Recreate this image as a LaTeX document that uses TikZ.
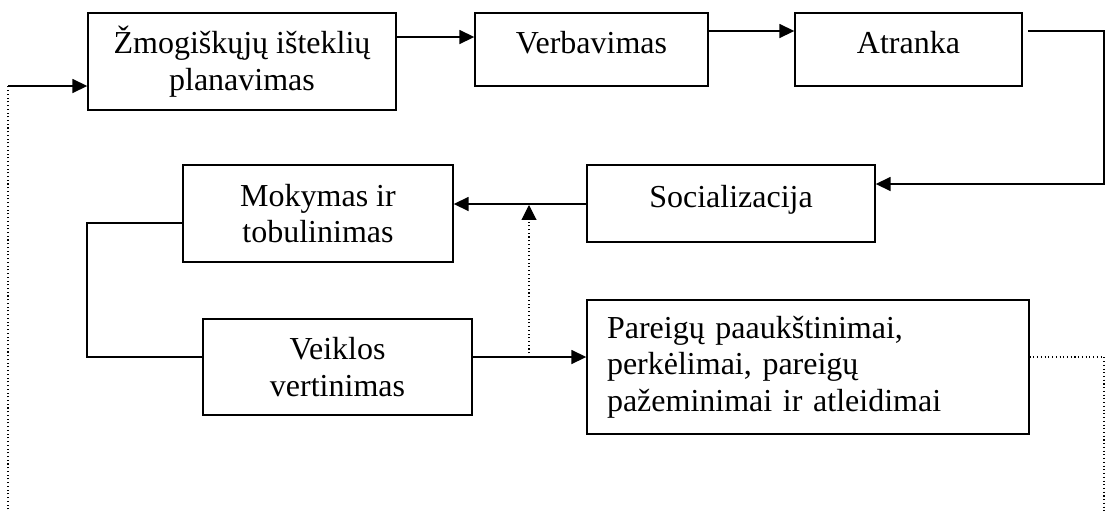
\documentclass[tikz,border=0pt]{standalone}
\usepackage{fontspec}
\setmainfont{Liberation Serif}
\usetikzlibrary{arrows.meta}

\begin{document}
\begin{tikzpicture}[x=0.375pt,y=-0.375pt]
\tikzset
{%langeliai ir rodyklės
  box/.style={draw,line width=0.5pt,inner sep=0pt,align=center,
    font=\fontsize{12}{13.7}\selectfont},
  oneline/.style={text height=8.25pt,text depth=5.625pt},
  arr/.style={draw,line width=0.65pt,-{Triangle[length=5.6pt,width=5.2pt]}},
  link/.style={draw,line width=0.5pt},
  dots/.style={draw,line width=0.4pt,densely dotted},
}
\useasboundingbox (0,0) rectangle (1105,511);

\node[box,minimum width=115.5pt,minimum height=36.375pt] (plan) at (242,61.5) {Žmogiškųjų išteklių\\planavimas};
\node[box,oneline,minimum width=87.375pt,minimum height=27.375pt] (verb) at (591.5,49.5) {Verbavimas};
\node[box,oneline,minimum width=85.125pt,minimum height=27.375pt] (atr) at (908.5,49.5) {Atranka};
\node[box,oneline,minimum width=108pt,minimum height=28.875pt] (soc) at (731,203.5) {Socializacija};
\node[box,minimum width=101.25pt,minimum height=36.375pt] (mok) at (318,213.5) {Mokymas ir\\tobulinimas};
\node[box,minimum width=100.875pt,minimum height=36pt] (veik) at (337.5,367) {Veiklos\\vertinimas};
\node[box,align=left,text width=150.75pt,minimum width=165.75pt,minimum height=50.25pt] (par) at (808,367)
  {Pareigų paaukštinimai,\\perkėlimai, pareigų\\pažeminimai ir atleidimai};

\draw[arr] (plan.east |- 0,37) -- (verb.west |- 0,37);
\draw[arr] (verb.east |- 0,31) -- (atr.west |- 0,31);
\draw[arr,shorten <=2pt] (atr.east |- 0,31) -| (1104,184) -- (soc.east |- 0,184);
\draw[arr] (soc.west |- 0,204) -- (mok.east |- 0,204);
\draw[link] (mok.west |- 0,223) -| (87,357) -- (veik.west |- 0,357);
\draw[arr] (veik.east |- 0,357) -- (par.west |- 0,357);

% grįžtamasis ryšys
\coordinate (fork) at (529,357);
\draw[dots,-{Triangle[length=5.6pt,width=5.6pt]}] (fork) -- (fork |- 0,205);
\coordinate (back) at (8,86);
\draw[dots] (par.east |- 0,357) -| (1104,520) -| (back);
\draw[arr] (back) -- (plan.west |- back);
\end{tikzpicture}
\end{document}
